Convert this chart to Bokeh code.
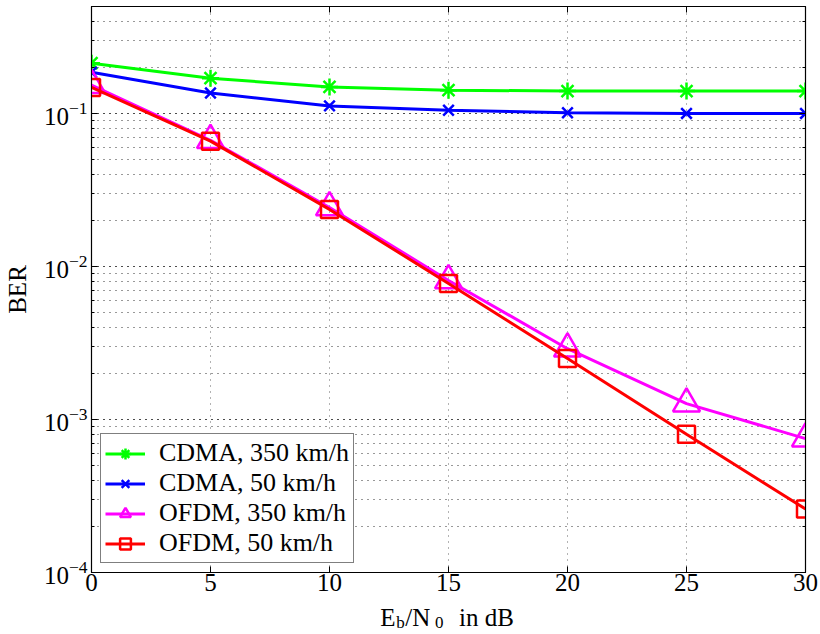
from bokeh.plotting import figure
from bokeh.layouts import column
from bokeh.models import (FixedTicker, LogAxis, LinearAxis, LogTicker, Range1d)
from bokeh.core.properties import value
from bokeh.embed import file_html
from bokeh.resources import INLINE

# Eb/N0 in dB
snr_db = [0, 5, 10, 15, 20, 25, 30]

# Bit error rate per scheme and speed
ber_cdma_350 = [0.213, 0.170, 0.149, 0.142, 0.140, 0.140, 0.140]
ber_cdma_50 = [0.186, 0.136, 0.112, 0.105, 0.101, 0.100, 0.100]
ber_ofdm_350 = [0.153, 0.0668, 0.0243, 0.0081, 0.0029, 0.00127, 0.00075]
ber_ofdm_50 = [0.148, 0.0659, 0.0236, 0.00774, 0.0025, 0.0008, 0.00026]

x_ticks = [0, 5, 10, 15, 20, 25, 30]
x_min, x_max = 0, 30
y_min, y_max = 1e-4, 0.5

# x-axis title pieces: normal-size runs and subscripts
title_main = ["E", "/N", "in dB"]
title_sub = ["b", "0"]

FONT = "Liberation Serif"
FS = "25px"
W = 820
MAIN_H = 601
TITLE_H = 33
LEFT, RIGHT = 88, 15

p = figure(width=W, height=MAIN_H, x_range=Range1d(x_min, x_max),
           y_range=Range1d(y_min, y_max), y_axis_type="log",
           output_backend="svg", toolbar_location=None,
           min_border_left=LEFT, min_border_right=RIGHT,
           min_border_top=6, min_border_bottom=29)

p.outline_line_color = "black"
p.outline_line_width = 1.2
p.background_fill_color = "white"
p.border_fill_color = "white"

# Dotted grid at major and minor positions
p.xgrid.ticker = FixedTicker(ticks=x_ticks)
p.xgrid.grid_line_color = "#666666"
p.xgrid.grid_line_dash = "1 5"
p.ygrid.grid_line_color = "#333333"
p.ygrid.grid_line_dash = "1 5"
p.ygrid.minor_grid_line_color = "#333333"
p.ygrid.minor_grid_line_dash = "1 5"

# Bottom / left axes
xa = p.xaxis[0]
xa.ticker = FixedTicker(ticks=x_ticks)
ya = p.yaxis[0]
for ax in (xa, ya):
    ax.major_label_text_font = FONT
    ax.major_label_text_font_size = FS
    ax.major_label_text_color = "black"
    ax.axis_line_color = "black"
    ax.major_tick_in = 6
    ax.major_tick_out = 0
    ax.minor_tick_in = 3
    ax.minor_tick_out = 0
    ax.axis_label_text_font = FONT
    ax.axis_label_text_font_size = FS
    ax.axis_label_text_font_style = "normal"
    ax.axis_label_text_color = "black"
xa.minor_tick_in = 0
xa.major_label_standoff = 1
ya.major_label_standoff = 4
ya.axis_label = "BER"
ya.axis_label_standoff = 10

# Mirrored axes for the closed box with inward ticks (labels hidden)
top = LinearAxis(ticker=FixedTicker(ticks=x_ticks), major_label_text_font_size="2px",
                 major_label_text_alpha=0,
                 major_tick_in=6, major_tick_out=0, minor_tick_in=0, minor_tick_out=0,
                 axis_line_color="black", major_label_standoff=0)
right = LogAxis(ticker=LogTicker(), major_label_text_font_size="2px",
                major_label_text_alpha=0,
                major_tick_in=6, major_tick_out=0, minor_tick_in=3, minor_tick_out=0,
                axis_line_color="black", major_label_standoff=0)
p.add_layout(top, "above")
p.add_layout(right, "right")

series = [
    (ber_cdma_350, "#00ff00", "asterisk", 17, "CDMA, 350 km/h"),
    (ber_cdma_50, "#0000ff", "x", 15, "CDMA, 50 km/h"),
    (ber_ofdm_350, "#ff00ff", "triangle", 27, "OFDM, 350 km/h"),
    (ber_ofdm_50, "#ff0000", "square", 17, "OFDM, 50 km/h"),
]
for ys, color, marker, size, name in series:
    p.line(snr_db, ys, line_color=color, line_width=3, legend_label=name)
    p.scatter(snr_db, ys, marker=marker, size=size, line_color=color,
              fill_color=None, line_width=2.5, legend_label=name)

leg = p.legend[0]
leg.location = "bottom_left"
leg.margin = 9
leg.label_text_font = FONT
leg.label_text_font_size = "26px"
leg.label_text_color = "black"
leg.border_line_color = "black"
leg.border_line_width = 1.2
leg.background_fill_color = "white"
leg.background_fill_alpha = 1
leg.glyph_width = 40
leg.glyph_height = 27
leg.label_height = 27
leg.label_standoff = 14
leg.spacing = 0
leg.padding = 4

# Strip under the plot carrying the x-axis title with subscripts.
# Its frame shares the plot's side borders, so x runs in page pixels.
q = figure(width=W, height=TITLE_H, x_range=Range1d(LEFT, W - RIGHT),
           y_range=Range1d(0, TITLE_H),
           output_backend="svg", toolbar_location=None,
           x_axis_location=None, y_axis_location=None,
           min_border_left=LEFT, min_border_right=RIGHT,
           min_border_top=0, min_border_bottom=0,
           outline_line_color=None, border_fill_color="white")
q.grid.visible = False
q.text(x=[378, 403, 457], y=[17, 17, 17], text=title_main,
       text_font=value(FONT), text_font_size=FS, text_color="black",
       text_baseline="alphabetic", text_align="left")
q.text(x=[394, 433], y=[12, 12], text=title_sub,
       text_font=value(FONT), text_font_size="17px", text_color="black",
       text_baseline="alphabetic", text_align="left")

layout = column(p, q, spacing=0)
open("out.html", "w").write(file_html(layout, INLINE))
